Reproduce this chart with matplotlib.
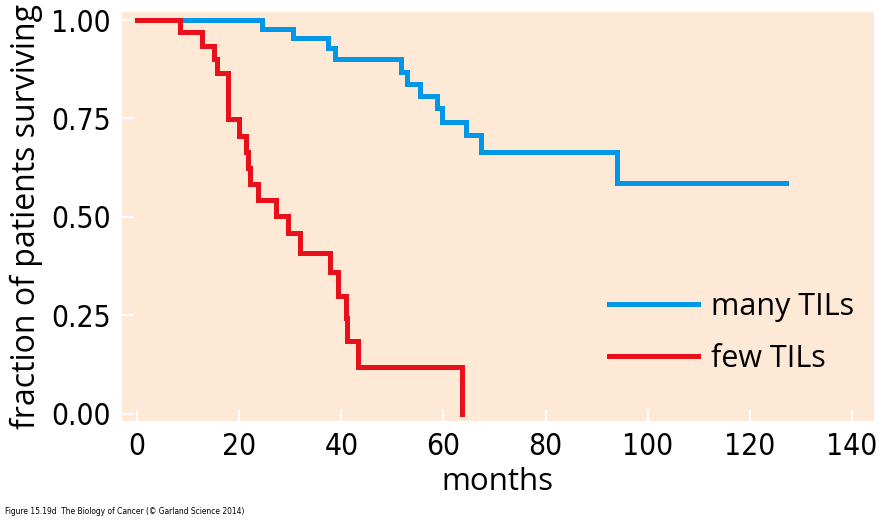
import matplotlib
matplotlib.use("Agg")
from matplotlib import pyplot as plt

# Kaplan-Meier style survival curves
many_months = [0, 24.4, 30.5, 37.4, 38.8, 51.6, 52.9, 55.4, 58.7, 59.7, 64.4, 67.3, 94.0, 127.0]
many_surv = [1.0, 0.976, 0.955, 0.928, 0.90, 0.869, 0.838, 0.808, 0.776, 0.741, 0.709, 0.666, 0.587, 0.587]

few_months = [0, 8.4, 12.7, 15.1, 15.6, 17.9, 20.0, 21.3, 21.8, 22.1, 23.6, 27.2, 29.6, 31.9,
              37.7, 39.4, 40.9, 41.1, 43.3, 63.6]
few_surv = [1.0, 0.970, 0.935, 0.90, 0.865, 0.748, 0.706, 0.666, 0.624, 0.583, 0.543, 0.503,
            0.459, 0.409, 0.361, 0.300, 0.243, 0.184, 0.120, 0.0]

x_ticks = [0, 20, 40, 60, 80, 100, 120, 140]
y_ticks = [0.0, 0.25, 0.5, 0.75, 1.0]
y_tick_labels = ['0.00', '0.25', '0.50', '0.75', '1.00']

blue = '#0098e6'
red = '#e8101a'
peach = '#fde9d5'

fig = plt.figure(figsize=(8.93, 5.20), dpi=100)
ax = fig.add_axes([0.1363, 0.1904, 0.9787 - 0.1363, 0.9763 - 0.1904])
ax.set_facecolor(peach)
for s in ax.spines.values():
    s.set_visible(False)

line_kw = dict(where='post', linewidth=3.6, solid_capstyle='projecting', solid_joinstyle='miter')
ax.step(many_months, many_surv, color=blue, label='many TILs', **line_kw)
ax.step(few_months, few_surv, color=red, label='few TILs', **line_kw)

ax.set_xlim(-3.0, 144.3)
ax.set_ylim(-0.018, 1.0195)
ax.set_xticks(x_ticks)
ax.set_yticks(y_ticks)
ax.set_yticklabels(y_tick_labels)
ax.tick_params(direction='in', color='white', length=8, width=1.5, pad=8)
for lab in ax.get_xticklabels() + ax.get_yticklabels():
    lab.set_fontsize(21.5)
    lab.set_fontstretch('condensed')
    lab.set_family('DejaVu Sans')

ax.set_xlabel('months', fontsize=22.5, family='Open Sans', labelpad=4)
ax.set_ylabel('fraction of patients surviving', fontsize=23, family='Open Sans', labelpad=6)

leg = ax.legend(loc='upper left', bbox_to_anchor=(609 / 893, 1 - 292 / 520),
                bbox_transform=fig.transFigure, frameon=False, borderpad=0,
                borderaxespad=0, handlelength=2.9, handletextpad=0.45, labelspacing=0.72,
                prop={'family': 'Open Sans', 'size': 22})

fig.text(0.006, 0.012, 'Figure 15.19d  The Biology of Cancer (\u00a9 Garland Science 2014)',
         fontsize=6, fontstretch='condensed', family='DejaVu Sans')

fig.savefig('out.png', dpi=100)
